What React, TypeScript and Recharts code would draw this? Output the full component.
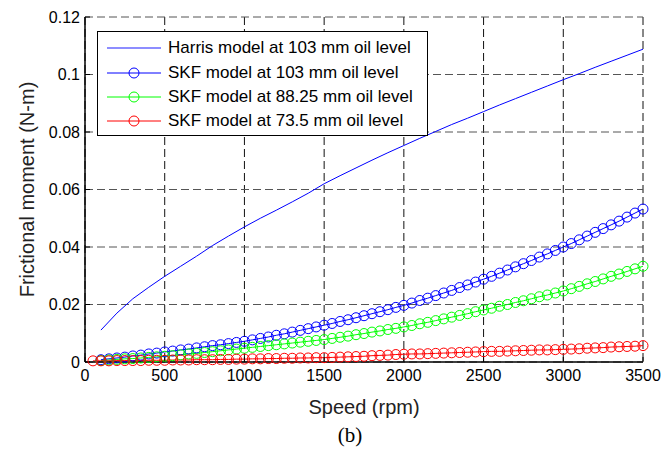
import React from 'react';
import { ComposedChart, Line, XAxis, YAxis, CartesianGrid, Legend, Label } from 'recharts';

// axis ticks
const speedTicks = [0, 500, 1000, 1500, 2000, 2500, 3000, 3500];
const momentTicks = [0, 0.02, 0.04, 0.06, 0.08, 0.1, 0.12];

// Harris model, plain line
const harrisSpeed = [
  100, 200, 300, 400, 500, 600, 700, 800, 900, 1000, 1100, 1200, 1300, 1400, 1500, 1600, 1700, 1800,
  1900, 2000, 2100, 2200, 2300, 2400, 2500, 2600, 2700, 2800, 2900, 3000, 3100, 3200, 3300, 3400, 3500,
];
const harrisMoment = [
  0.0111, 0.017, 0.022, 0.026, 0.0298, 0.0333, 0.0368, 0.0405, 0.0438, 0.047, 0.05, 0.0528, 0.0557,
  0.0587, 0.062, 0.0648, 0.0675, 0.0702, 0.0728, 0.0753, 0.0778, 0.0802, 0.0826, 0.0848, 0.0871,
  0.0894, 0.0916, 0.0938, 0.096, 0.0982, 0.1003, 0.1025, 0.1046, 0.1067, 0.1088,
];

// SKF model, circles every 50 rpm
const skfSpeed = [
  50, 100, 150, 200, 250, 300, 350, 400, 450, 500, 550, 600, 650, 700, 750, 800, 850, 900, 950, 1000,
  1050, 1100, 1150, 1200, 1250, 1300, 1350, 1400, 1450, 1500, 1550, 1600, 1650, 1700, 1750, 1800,
  1850, 1900, 1950, 2000, 2050, 2100, 2150, 2200, 2250, 2300, 2350, 2400, 2450, 2500, 2550, 2600,
  2650, 2700, 2750, 2800, 2850, 2900, 2950, 3000, 3050, 3100, 3150, 3200, 3250, 3300, 3350, 3400,
  3450, 3500,
];
const skf103 = [
  null, 0.0008, 0.0011, 0.0014, 0.0017, 0.0021, 0.0024, 0.0028, 0.0031, 0.0035, 0.0038, 0.0042,
  0.0045, 0.0049, 0.0053, 0.0057, 0.006, 0.0064, 0.0068, 0.0072, 0.0077, 0.0082, 0.0087, 0.0093,
  0.0098, 0.0104, 0.011, 0.0116, 0.0122, 0.0128, 0.0134, 0.0141, 0.0147, 0.0154, 0.0161, 0.0168,
  0.0175, 0.0182, 0.019, 0.0197, 0.0205, 0.0214, 0.0222, 0.0231, 0.024, 0.0249, 0.0259, 0.0268,
  0.0278, 0.0288, 0.0298, 0.0309, 0.032, 0.0331, 0.0342, 0.0353, 0.0365, 0.0376, 0.0388, 0.04,
  0.0412, 0.0425, 0.0438, 0.0451, 0.0464, 0.0477, 0.049, 0.0504, 0.0518, 0.0532,
];
const skf8825 = [
  null, 0.0005, 0.0007, 0.0009, 0.0011, 0.0012, 0.0014, 0.0016, 0.0018, 0.002, 0.0022, 0.0025,
  0.0028, 0.003, 0.0033, 0.0036, 0.0039, 0.0042, 0.0045, 0.0048, 0.0051, 0.0054, 0.0057, 0.006,
  0.0063, 0.0066, 0.0069, 0.0072, 0.0075, 0.0078, 0.0082, 0.0086, 0.009, 0.0095, 0.0099, 0.0104,
  0.0108, 0.0113, 0.0117, 0.0122, 0.0127, 0.0133, 0.0138, 0.0144, 0.015, 0.0156, 0.0162, 0.0168,
  0.0175, 0.0181, 0.0187, 0.0194, 0.02, 0.0207, 0.0213, 0.022, 0.0227, 0.0233, 0.024, 0.0247,
  0.0255, 0.0263, 0.0272, 0.028, 0.0289, 0.0298, 0.0306, 0.0315, 0.0324, 0.0333,
];
const skf735 = [
  0.0004, 0.0004, 0.0004, 0.0005, 0.0005, 0.0005, 0.0005, 0.0006, 0.0006, 0.0006, 0.0007, 0.0007,
  0.0007, 0.0008, 0.0008, 0.0008, 0.0009, 0.0009, 0.001, 0.001, 0.0011, 0.0011, 0.0012, 0.0012,
  0.0013, 0.0013, 0.0014, 0.0014, 0.0015, 0.0015, 0.0016, 0.0017, 0.0018, 0.0019, 0.002, 0.0022,
  0.0023, 0.0024, 0.0026, 0.0027, 0.0028, 0.0028, 0.0029, 0.003, 0.0031, 0.0032, 0.0033, 0.0034,
  0.0035, 0.0036, 0.0037, 0.0037, 0.0038, 0.0039, 0.004, 0.0041, 0.0042, 0.0042, 0.0043, 0.0044,
  0.0045, 0.0046, 0.0048, 0.0049, 0.005, 0.0052, 0.0053, 0.0054, 0.0055, 0.0057,
];

const legendItems = [
  { name: 'Harris model at 103 mm oil level', color: '#0000ff', marker: false },
  { name: 'SKF model at 103 mm oil level', color: '#0000ff', marker: true },
  { name: 'SKF model at 88.25 mm oil level', color: '#00ff00', marker: true },
  { name: 'SKF model at 73.5 mm oil level', color: '#ff0000', marker: true },
];

const harrisData = harrisSpeed.map((speed, i) => ({ speed, moment: harrisMoment[i] }));
const skfData = skfSpeed.map((speed, i) => ({
  speed,
  skf103: skf103[i],
  skf8825: skf8825[i],
  skf735: skf735[i],
}));

const font = '"Liberation Sans", Arial, sans-serif';

const renderLegend = () => (
  <div
    style={{
      width: 331,
      height: 105,
      boxSizing: 'border-box',
      border: '1px solid #000',
      background: '#fff',
      paddingTop: 4,
      fontFamily: font,
      fontSize: 17,
      color: '#000',
    }}
  >
    {legendItems.map((item) => (
      <div key={item.name} style={{ display: 'flex', alignItems: 'center', height: 24.4 }}>
        <svg width={70} height={14} style={{ flex: 'none' }}>
          <line x1={9} x2={63} y1={7} y2={7} stroke={item.color} strokeWidth={item.marker ? 1 : 1.5} strokeOpacity={item.marker ? 1 : 0.6} />
          {item.marker && <circle cx={36} cy={7} r={5} fill="none" stroke={item.color} />}
        </svg>
        <span style={{ whiteSpace: 'nowrap' }}>{item.name}</span>
      </div>
    ))}
  </div>
);

const dotStyle = (color: string) => ({ r: 5, fill: 'none', stroke: color, strokeWidth: 1 });

export default function App() {
  return (
    <div style={{ position: 'absolute', left: 0, top: 0, width: 663, height: 450, background: '#fff', fontFamily: font }}>
      <ComposedChart width={663} height={450} data={skfData} margin={{ top: 17, right: 20, bottom: 58, left: 25 }}>
        <CartesianGrid horizontal={false} stroke="#111" strokeDasharray="8 4" />
        <CartesianGrid vertical={false} stroke="#555" strokeDasharray="8 4" />
        <XAxis
          dataKey="speed"
          type="number"
          domain={[0, 3500]}
          ticks={speedTicks}
          height={30}
          stroke="#000"
          axisLine={{ strokeWidth: 1.5 }}
          tickSize={-5}
          tickMargin={13}
          tick={{ fill: '#000', fontSize: 16 }}
        >
          <Label value="Speed (rpm)" position="bottom" offset={8} style={{ fontSize: 20, fill: '#222' }} />
        </XAxis>
        <XAxis
          xAxisId="top"
          orientation="top"
          type="number"
          domain={[0, 3500]}
          ticks={speedTicks}
          height={0}
          stroke="#000"
          axisLine={{ strokeWidth: 1.5 }}
          tickSize={-5}
          tick={false}
        />
        <YAxis
          type="number"
          domain={[0, 0.12]}
          ticks={momentTicks}
          width={60}
          stroke="#000"
          axisLine={{ strokeWidth: 1.5 }}
          tickSize={-5}
          tickMargin={10}
          tick={{ fill: '#000', fontSize: 16 }}
        >
          <Label
            value="Frictional moment (N-m)"
            angle={-90}
            position="insideLeft"
            offset={2}
            style={{ fontSize: 20, fill: '#222', textAnchor: 'middle' }}
          />
        </YAxis>
        <YAxis
          yAxisId="right"
          orientation="right"
          type="number"
          domain={[0, 0.12]}
          ticks={momentTicks}
          width={0}
          stroke="#000"
          axisLine={{ strokeWidth: 1.5 }}
          tickSize={-5}
          tick={false}
        />
        <Legend
          layout="vertical"
          align="center"
          verticalAlign="middle"
          content={renderLegend}
          wrapperStyle={{ left: 97, top: 31, width: 331, height: 105 }}
        />
        <Line
          data={harrisData}
          dataKey="moment"
          stroke="#0000ff"
          strokeWidth={1}
          dot={false}
          isAnimationActive={false}
        />
        <Line dataKey="skf103" stroke="#0000ff" strokeWidth={1} dot={dotStyle('#0000ff')} isAnimationActive={false} />
        <Line dataKey="skf8825" stroke="#00ff00" strokeWidth={1} dot={dotStyle('#00ff00')} isAnimationActive={false} />
        <Line dataKey="skf735" stroke="#ff0000" strokeWidth={1} dot={dotStyle('#ff0000')} isAnimationActive={false} />
      </ComposedChart>
      <div
        style={{
          position: 'absolute',
          left: 330,
          top: 423,
          width: 40,
          textAlign: 'center',
          fontFamily: '"Liberation Serif", "Times New Roman", serif',
          fontSize: 21,
          lineHeight: '24px',
          color: '#000',
        }}
      >
        (b)
      </div>
    </div>
  );
}
